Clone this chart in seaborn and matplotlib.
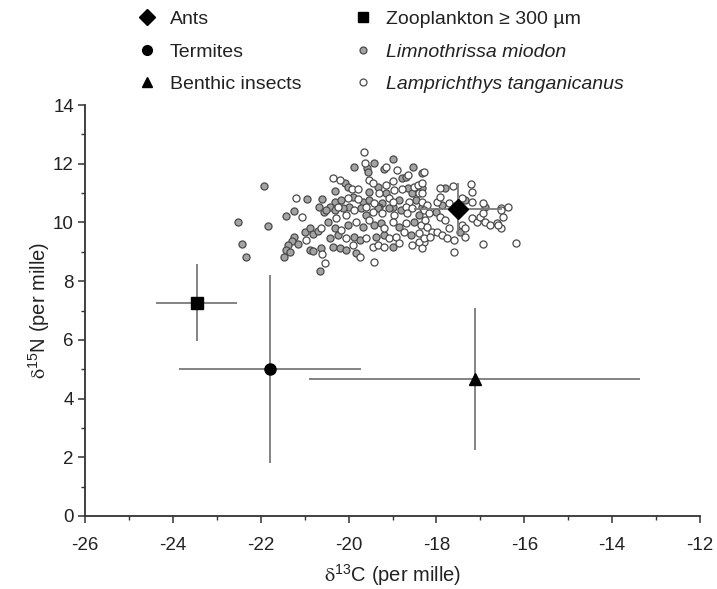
import matplotlib
matplotlib.use("Agg")
import matplotlib.pyplot as plt
import seaborn as sns
import pandas as pd
from matplotlib.lines import Line2D

# Prey group means (delta13C, delta15N) with SD
prey_names = ["Ants", "Termites", "Benthic insects", "Zooplankton \u2265 300 \u00b5m"]
prey_c = [-17.5, -21.78, -17.13, -23.46]
prey_n = [10.46, 5.02, 4.67, 7.27]
prey_c_sd = [1.0, 2.07, 3.77, 0.93]
prey_n_sd = [0.9, 3.2, 2.43, 1.32]
prey_markers = ["D", "o", "^", "s"]
prey_sizes = [10, 8, 8.5, 8]

# Limnothrissa miodon individuals
limno_c = [-21.93, -20.94, -20.60, -20.67, -21.43, -21.24, -20.57, -22.52, -21.84, -22.43,
           -22.34, -20.99, -20.87, -20.81, -20.69, -21.24, -21.28, -21.37, -21.42, -21.48,
           -21.33, -21.15, -20.87, -20.81, -20.63, -20.64,
           -19.88, -19.41, -18.98, -19.58, -19.55, -19.19, -18.53, -18.32, -20.09, -20.02,
           -20.30, -19.34, -18.79, -18.70, -18.64, -18.32, -18.55, -19.53, -19.15, -20.32,
           -20.17, -19.90, -19.68, -19.53, -19.23, -18.85, -18.47, -20.43, -19.98, -19.30,
           -19.00, -18.32, -17.80, -17.87, -17.35, -16.89,
           -20.51, -20.32, -20.13, -19.72, -19.60, -19.34, -19.08, -18.81, -18.40, -20.47,
           -20.32, -20.02, -19.68, -19.41, -19.27, -18.85, -18.51, -20.43, -20.24, -19.87,
           -19.75, -19.38, -19.19, -18.59, -20.36, -20.20, -20.06, -19.83, -19.00, -18.02,
           -17.46]
limno_n = [11.25, 10.79, 10.81, 10.53, 10.22, 10.39, 10.34, 10.01, 9.89, 9.26,
           8.81, 9.67, 9.81, 9.60, 9.71, 9.51, 9.37, 9.23, 9.06, 8.83,
           9.00, 9.25, 9.06, 9.03, 9.14, 8.34,
           11.90, 12.01, 12.16, 11.84, 11.71, 11.81, 11.88, 11.69, 11.33, 11.22,
           11.08, 11.22, 11.50, 11.56, 11.16, 11.16, 10.99, 11.05, 10.99, 10.71,
           10.76, 10.88, 10.71, 10.76, 10.65, 10.76, 10.76, 10.53, 10.53, 10.53,
           10.53, 10.53, 11.16, 10.59, 10.76, 10.53,
           10.42, 10.42, 10.48, 10.48, 10.25, 10.48, 10.48, 10.42, 10.25, 10.02,
           9.80, 9.91, 9.85, 9.91, 9.97, 9.85, 10.02, 9.46, 9.57, 9.51,
           9.40, 9.51, 9.57, 9.57, 9.17, 9.12, 9.06, 8.95, 9.17, 10.36,
           9.68]

# Lamprichthys tanganicanus individuals
lampr_c = [-21.19, -21.06, -20.63, -20.60, -20.54, -20.97,
           -19.66, -19.63, -19.14, -18.89, -20.36, -20.20, -19.92, -19.79, -19.53, -19.45,
           -19.15, -19.00, -18.64, -18.96, -18.78, -18.51, -18.42, -18.40, -19.30, -19.08,
           -20.02, -19.79, -19.41, -19.00, -18.62, -18.32, -20.24, -19.60, -18.70,
           -18.29, -17.91, -17.62, -17.21, -17.19, -18.21, -17.98, -17.91, -17.72, -17.42,
           -17.19, -16.93, -16.52, -16.37, -18.32, -18.32,
           -20.28, -20.06, -19.87, -19.45, -19.23, -18.96, -18.66, -18.55, -18.29, -20.17,
           -19.83, -19.53, -19.19, -19.00, -18.70, -18.36, -18.25, -20.06, -19.60, -19.08,
           -18.93, -18.74, -18.40, -18.29, -19.90, -19.75, -19.45, -19.34, -19.19, -18.85,
           -18.55, -18.40, -19.41,
           -18.17, -17.91, -17.80, -18.21, -18.10, -18.29, -18.14, -17.98, -17.87, -17.76,
           -17.61, -17.72, -17.42, -17.35, -17.35, -17.19, -17.08, -17.01, -16.93, -16.89,
           -16.78, -16.63, -16.52, -16.48, -16.52, -16.59, -16.93, -17.61, -16.18, -18.32,
           -17.58, -17.49]
lampr_n = [10.83, 10.19, 9.81, 8.91, 8.63, 9.40,
           12.41, 12.03, 11.88, 11.78, 11.50, 11.44, 11.13, 11.13, 11.44, 11.33,
           11.27, 11.42, 11.61, 11.10, 11.13, 11.22, 11.27, 10.99, 10.99, 10.82,
           10.82, 10.79, 10.65, 10.71, 10.71, 10.71, 10.53, 10.53, 10.53,
           11.71, 11.16, 11.24, 11.30, 11.05, 10.59, 10.71, 10.88, 10.65, 10.82,
           10.71, 10.65, 10.48, 10.53, 10.99, 11.33,
           10.14, 10.25, 10.42, 10.36, 10.31, 10.25, 10.31, 10.48, 10.42, 9.74,
           10.02, 10.08, 9.80, 10.02, 9.97, 9.91, 10.08, 9.46, 9.46, 9.46,
           9.51, 9.68, 9.63, 9.34, 9.23, 8.83, 9.17, 9.23, 9.17, 9.29,
           9.23, 9.34, 8.66,
           10.31, 10.19, 10.08, 9.85, 9.68, 9.46, 9.51, 9.68, 9.57, 9.46,
           9.40, 9.80, 9.91, 9.80, 9.51, 10.14, 10.02, 10.19, 10.31, 10.02,
           9.91, 9.97, 10.42, 10.19, 9.80, 9.91, 9.25, 9.00, 9.29, 9.12,
           10.56, 10.35]

x_ticks = [-26, -24, -22, -20, -18, -16, -14, -12]
y_ticks = [0, 2, 4, 6, 8, 10, 12, 14]

sns.set_theme(style="ticks")
plt.rcParams["font.family"] = ["Liberation Sans", "DejaVu Sans"]
plt.rcParams["mathtext.fontset"] = "stix"

fig = plt.figure(figsize=(7.17, 5.89), dpi=100)
ax = fig.add_axes([85 / 717, 1 - 516 / 589, 615 / 717, 411 / 589])

fish = pd.concat([
    pd.DataFrame({"c": limno_c, "n": limno_n, "sp": "Limnothrissa miodon"}),
    pd.DataFrame({"c": lampr_c, "n": lampr_n, "sp": "Lamprichthys tanganicanus"}),
], ignore_index=True)

sns.scatterplot(data=fish[fish.sp == "Limnothrissa miodon"], x="c", y="n",
                color="#a3a3a3", edgecolor="#4a4a4a", linewidth=0.9, s=26,
                ax=ax, legend=False, zorder=2)
sns.scatterplot(data=fish[fish.sp == "Lamprichthys tanganicanus"], x="c", y="n",
                color="white", edgecolor="#4a4a4a", linewidth=0.9, s=26,
                ax=ax, legend=False, zorder=2)

for c, n, cs, ns, m, ms in zip(prey_c, prey_n, prey_c_sd, prey_n_sd, prey_markers, prey_sizes):
    ax.errorbar(c, n, xerr=cs, yerr=ns, fmt=m, color="black", ms=ms,
                ecolor="#7a7a7a", elinewidth=1.3, capsize=0, zorder=3)

ax.set_xlim(-26, -12)
ax.set_ylim(0, 14)
ax.set_xticks(x_ticks)
ax.set_yticks(y_ticks)
ax.set_xticks([v + 1 for v in x_ticks[:-1]], minor=True)
ax.set_yticks([v + 1 for v in y_ticks[:-1]], minor=True)
ax.set_xticklabels([str(v) for v in x_ticks])
ax.set_yticklabels([str(v) for v in y_ticks])
ax.tick_params(axis="both", which="major", direction="out", length=5, width=1.1,
               color="#333333", labelsize=13.5, labelcolor="#222222")
ax.tick_params(axis="x", which="major", pad=10)
ax.tick_params(axis="y", which="major", pad=3)
ax.tick_params(axis="both", which="minor", direction="out", length=3, width=1.0,
               color="#333333")
for side in ["left", "bottom"]:
    ax.spines[side].set_color("#333333")
    ax.spines[side].set_linewidth(1.3)
for side in ["top", "right"]:
    ax.spines[side].set_visible(False)

ax.set_xlabel(r"$\mathrm{\delta}^{\mathregular{13}}$C (per mille)", fontsize=14.5,
              color="#222222", labelpad=6)
ax.set_ylabel(r"$\mathrm{\delta}^{\mathregular{15}}$N (per mille)", fontsize=14.5,
              color="#222222", labelpad=1)

handles = [
    Line2D([], [], ls="none", marker="D", color="black", ms=8.5),
    Line2D([], [], ls="none", marker="o", color="black", ms=7),
    Line2D([], [], ls="none", marker="^", color="black", ms=7),
    Line2D([], [], ls="none", marker="s", color="black", ms=7),
    Line2D([], [], ls="none", marker="o", markerfacecolor="#a3a3a3",
           markeredgecolor="#4a4a4a", markeredgewidth=0.9, ms=5),
    Line2D([], [], ls="none", marker="o", markerfacecolor="white",
           markeredgecolor="#4a4a4a", markeredgewidth=0.9, ms=5),
]
labels = ["Ants", "Termites", "Benthic insects", prey_names[3],
          "Limnothrissa miodon", "Lamprichthys tanganicanus"]
leg = fig.legend(handles, labels, ncol=2, loc="upper left",
                 bbox_to_anchor=(122 / 717, 1 + 5 / 589), frameon=False,
                 fontsize=14, labelspacing=0.76, handletextpad=0.65,
                 columnspacing=2.7, handlelength=1.0, borderpad=0.3)
for t in leg.get_texts():
    t.set_color("#222222")
leg.get_texts()[4].set_fontstyle("italic")
leg.get_texts()[5].set_fontstyle("italic")

fig.savefig("out.png", dpi=100)
